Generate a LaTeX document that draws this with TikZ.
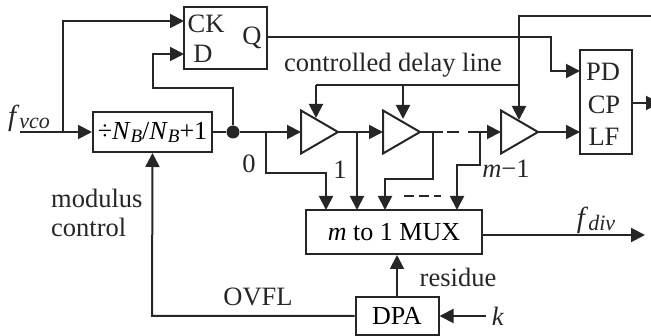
\documentclass[tikz,border=0pt]{standalone}
\usepackage{fontspec}
\setmainfont{Liberation Serif}
\usetikzlibrary{arrows.meta,shapes.geometric}
\tikzset{
 wire/.style={line width=2pt,color=black!85,line join=miter},
 arr/.style={wire,-{Triangle[length=14pt,width=14pt]}},
 block/.style={draw=black!85,line width=2pt,fill=white,inner sep=0pt,font=\fontsize{26}{28}\selectfont},
 lbl/.style={inner sep=0pt,font=\fontsize{26.5}{30}\selectfont,color=black!85},
 amp/.style={draw=black!85,line width=2pt,isosceles triangle,isosceles triangle stretches=true,shape border rotate=0,minimum width=43pt,minimum height=37pt,inner sep=0pt,outer sep=0pt,anchor=lower side},
 dot/.style={circle,fill=black!85,minimum size=13pt,inner sep=0pt}
}
\newcommand{\subtxt}[1]{\raisebox{-3pt}{\fontsize{19}{20}\selectfont\textit{#1}}}
\newcommand{\subbig}[1]{\raisebox{-3pt}{\fontsize{22}{23}\selectfont\textit{#1}}}
\begin{document}
\begin{tikzpicture}[x=1pt,y=-1pt]
\useasboundingbox (0,0) rectangle (651,336);
% blocks
\node[block,minimum width=83pt,minimum height=62pt] (ff) at (225.5,38) {};
\node[lbl] (cklbl) at (206,24) {CK};
\node[lbl] (dlbl) at (203,54) {D};
\node[lbl] (qlbl) at (252,38) {Q};
\node[block,minimum width=119pt,minimum height=40pt] (div) at (152.5,132) {÷\textit{N}\subtxt{B}/\textit{N}\subtxt{B}+1};
\node[block,minimum width=52pt,minimum height=104pt] (pd) at (606,102) {};
\node[lbl] (pdl) at (603,72) {PD};
\node[lbl] (cpl) at (604,105) {CP};
\node[lbl] (lfl) at (604,137) {LF};
\node[block,minimum width=176pt,minimum height=44pt] (mux) at (394,232) {\textit{m} to 1 MUX};
\node[block,minimum width=83pt,minimum height=38pt] (dpa) at (397,316) {DPA};
\node[amp] (a1) at (301,132) {};
\node[amp] (a2) at (383,132) {};
\node[amp] (a3) at (501,132) {};
\node[dot] (j) at (233,132) {};
% coordinates
\coordinate (in) at (20,132);
\coordinate (s) at (63,132);
\coordinate (t0) at (266,132);
\coordinate (t1) at (357,132);
\coordinate (t2) at (433,132);
\coordinate (t3) at (480,132);
\coordinate (dashA) at (443,132);
\coordinate (dashB) at (447,132);
\coordinate (dashC) at (459,132);
\coordinate (dashD) at (468,132);
\coordinate (ckin) at (184,21);
\coordinate (din) at (184,54);
\coordinate (qout) at (267,37);
\coordinate (pdin) at (580,71);
\coordinate (lfin) at (580,132);
\coordinate (top) at (651,16);
\coordinate (cl) at (316,85);
\coordinate (cr) at (519,85);
\coordinate (cm) at (403,85);
\coordinate (a1c) at (316,118);
\coordinate (a2c) at (403,119);
\coordinate (a3c) at (519,120);
\coordinate (pdout) at (632,103);
\coordinate (pdend) at (660,103);
\coordinate (m0) at (326,210);
\coordinate (m1) at (357,210);
\coordinate (m2) at (385,210);
\coordinate (m3) at (457,210);
\coordinate (fdiv) at (645,235);
\coordinate (muxr) at (482,235);
\coordinate (kin) at (486,316);
% connectors
\draw[wire] (in) -- (s);
\draw[arr] (s) -- (div.west);
\draw[arr] (s) |- (ckin);
\draw[wire] (div.east) -- (j);
\draw[arr] (j) -- (233,88) -- (153,88) -- (153,54) -- (din);
\draw[arr] (j) -- (a1.lower side);
\draw[arr] (a1.apex) -- (a2.lower side);
\draw[wire] (a2.apex) -- (dashA);
\draw[wire] (dashB) -- (dashC);
\draw[arr] (dashD) -- (a3.lower side);
\draw[arr] (a3.apex) -- (lfin);
\draw[arr] (qout) -- (551,37) -- (551,71) -- (pdin);
\draw[wire] (top) -- (519,16) -- (cr);
\draw[arr] (cr) -- (a3c);
\draw[wire] (cl) -- (cr);
\draw[arr] (cl) -- (a1c);
\draw[arr] (cm) -- (a2c);
\draw[arr] (pdout) -- (pdend);
\draw[arr] (t0) -- (266,173) -- (326,173) -- (m0);
\draw[arr] (t1) -- (m1);
\draw[arr] (t2) -- (433,179) -- (385,179) -- (m2);
\draw[arr] (t3) -- (480,165) -- (457,165) -- (m3);
\draw[wire,dash pattern=on 10pt off 5pt] (404,196) -- (441,196);
\draw[arr] (muxr) -- (fdiv);
\draw[arr] (dpa.north) -- (mux.south -| dpa.north);
\draw[arr] (kin) -- (dpa.east);
\draw[arr] (dpa.west) -- (152,316) -- (div.south);
% labels
\node[lbl] (fv) at (29,118) {\fontsize{29}{30}\selectfont\textit{f}\subbig{vco}};
\node[lbl] (fd) at (596,220) {\fontsize{29}{30}\selectfont\textit{f}\subbig{div}};
\node[lbl] (cdl) at (393,65) {controlled delay line};
\node[lbl] (l0) at (249,164) {0};
\node[lbl] (l1) at (340,170) {1};
\node[lbl] (lm) at (506,169) {\textit{m}−1};
\node[lbl,anchor=west] (mc1) at (51,198) {modulus};
\node[lbl,anchor=west] (mc2) at (51,227) {control};
\node[lbl] (ov) at (258,297) {OVFL};
\node[lbl] (res) at (458,277) {residue};
\node[lbl] (k) at (498,316) {\textit{k}};
\end{tikzpicture}
\end{document}
